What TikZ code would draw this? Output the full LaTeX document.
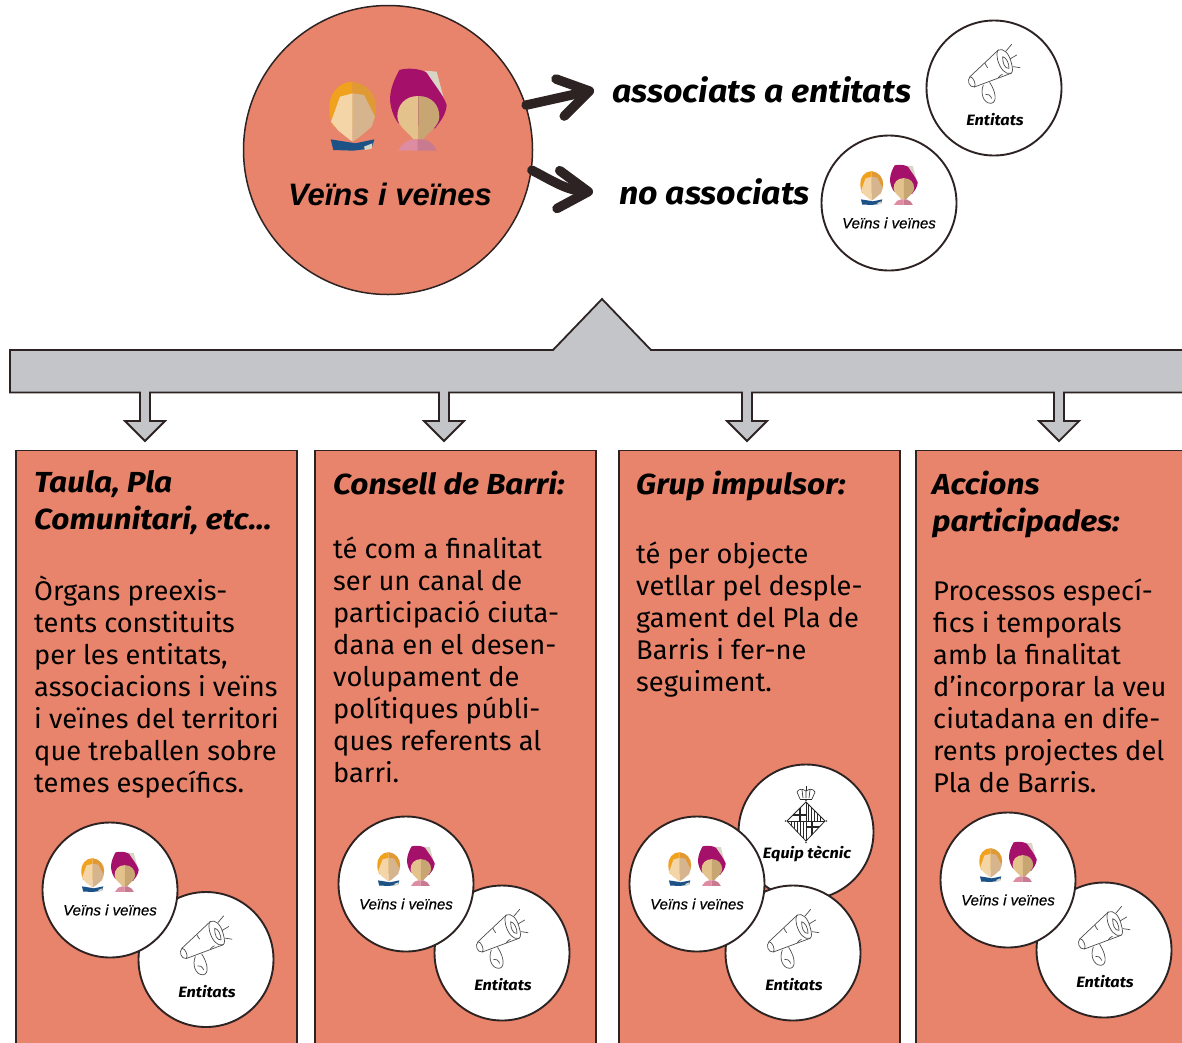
\documentclass[tikz,border=0pt]{standalone}
\usepackage{fontspec}
\setmainfont{Fira Sans}
\newfontfamily\arialish{Liberation Sans}
\newfontfamily\capvfont[FakeBold=0.5]{Liberation Sans}
\newfontfamily\wide[FakeStretch=1.09]{Fira Sans}
\newfontfamily\leadfont[FakeStretch=1.06]{Fira Sans}
\newfontfamily\bodyfont[FakeStretch=1.01]{Fira Sans}
\usetikzlibrary{arrows.meta,calc}
\definecolor{salmon}{HTML}{E8846B}
\definecolor{barg}{HTML}{C3C5C9}
\definecolor{ink}{HTML}{2E2323}
\definecolor{hairA}{HTML}{F0A11E}
\definecolor{hairB}{HTML}{DF9A35}
\definecolor{skinA}{HTML}{F3D5A8}
\definecolor{skinB}{HTML}{D6B58E}
\definecolor{skinC}{HTML}{E3C28B}
\definecolor{skinD}{HTML}{C7A674}
\definecolor{scarf}{HTML}{A5106B}
\definecolor{pale}{HTML}{D9D5C5}
\definecolor{navy}{HTML}{1C5286}
\definecolor{pinkA}{HTML}{DD8CA2}
\definecolor{pinkB}{HTML}{C87B90}
\tikzset{
 roundel/.style={circle,draw=ink,line width=1.9pt,fill=white,minimum size=135pt,inner sep=0pt},
 panel/.style={rectangle,draw=ink,line width=1.8pt,fill=salmon,anchor=north west,inner sep=0pt},
 capt/.style={font=\fontsize{15}{18}\selectfont\wide\bfseries\itshape,text=black,inner sep=0pt},
 capv/.style={font=\fontsize{15}{18}\selectfont\capvfont\itshape,text=black,inner sep=0pt},
 heading/.style={font=\fontsize{29}{37}\selectfont\wide\bfseries\itshape,align=left,anchor=north west,inner sep=0pt,text=black},
 body/.style={font=\fontsize{27}{32}\selectfont\bodyfont,align=left,anchor=north west,inner sep=0pt,text=black},
 lead/.style={font=\fontsize{32}{38}\selectfont\leadfont\bfseries\itshape,anchor=west,inner ysep=0pt,text=black},
 bigarrow/.style={draw=ink,line width=9.5pt,line cap=round,line join=round,-{Straight Barb[length=30pt,width=38pt,round]}},
 faces/.pic={
  \begin{scope}[scale=1/3,shift={(-444,-324)}]
   \fill[hairA] (338,245) .. controls (295,245) and (265,285) .. (268,325) .. controls (268,345) and (272,365) .. (280,380) -- (338,380) -- cycle;
   \fill[hairB] (338,245) .. controls (380,250) and (410,285) .. (408,325) .. controls (408,345) and (400,365) .. (392,380) -- (338,380) -- cycle;
   \fill[skinA] (338,280) -- (300,290) -- (273,365) -- (295,392) -- (328,418) -- (338,425) -- cycle;
   \fill[skinB] (338,280) -- (372,285) -- (405,350) -- (395,380) -- (360,410) -- (338,425) -- cycle;
   \fill[navy] (272,418) -- (335,428) -- (345,430) -- (403,418) -- (395,445) -- (340,452) -- (280,450) -- cycle;
   \fill[pale] (372,440) -- (397,430) -- (395,446) -- (375,450) -- cycle;
   \fill[pale] (555,212) -- (590,215) -- (610,290) -- (575,250) -- cycle;
   \fill[scarf] (478,210) .. controls (500,203) and (540,205) .. (560,218) .. controls (580,250) and (610,285) .. (620,315) .. controls (618,345) and (600,365) .. (585,385) -- (475,370) .. controls (460,350) and (450,320) .. (450,295) .. controls (452,260) and (465,235) .. (478,210) -- cycle;
   \fill[skinC] (535,288) .. controls (495,288) and (472,315) .. (472,350) .. controls (472,380) and (510,400) .. (520,418) -- (535,418) -- cycle;
   \fill[skinD] (535,288) .. controls (575,288) and (598,315) .. (598,350) .. controls (598,380) and (560,400) .. (550,418) -- (535,418) -- cycle;
   \fill[pinkA] (475,452) .. controls (482,435) and (495,422) .. (520,418) -- (533,418) -- (533,452) -- cycle;
   \fill[pinkB] (533,452) -- (533,418) -- (550,418) .. controls (570,422) and (583,435) .. (590,452) -- cycle;
  \end{scope}},
 horn/.pic={
  \begin{scope}[scale=1/3,shift={(-117,-159)},draw=black!70,line width=.7pt,line cap=round,line join=round]
   \draw (45,125) -- (130,45);
   \draw (58,156) -- (168,115);
   \draw (130,45) .. controls (145,38) and (162,55) .. (168,80) .. controls (174,100) and (174,112) .. (168,115) .. controls (150,120) and (135,100) .. (128,75) .. controls (125,60) and (125,48) .. (130,45) -- cycle;
   \draw (143,65) .. controls (155,68) and (162,85) .. (162,100) .. controls (150,102) and (142,85) .. (143,65) -- cycle;
   \draw (45,125) .. controls (35,135) and (42,158) .. (58,156) .. controls (65,150) and (55,125) .. (45,125) -- cycle;
   \draw (85,150) .. controls (75,175) and (85,205) .. (108,205) .. controls (128,202) and (122,170) .. (104,142);
   \draw (92,178) .. controls (98,176) and (106,180) .. (110,190);
   \draw (90,85) .. controls (92,90) and (96,96) .. (98,98);
   \draw (130,128) .. controls (134,122) and (138,120) .. (142,118);
   \draw (153,48) -- (170,28);
   \draw (165,72) -- (185,60);
   \draw (175,95) -- (195,98);
  \end{scope}},
 crest/.pic={
  \begin{scope}[draw=black!85,line width=.6pt]
   \draw[line width=.8pt] (-19,-11) -- (0,-30) -- (19,-11) -- (0,9) -- cycle;
   \begin{scope}
    \clip (-19,-11) -- (0,-30) -- (19,-11) -- (0,9) -- cycle;
    \draw (-19,-11) -- (19,-11) (0,-30) -- (0,9);
    \draw[line width=1.8pt] (-6,-25) -- (-6,-11) (-14,-17) -- (0,-17);
    \draw[line width=1.8pt] (6,-11) -- (6,4) (0,-5) -- (14,-5);
    \foreach \q in {2.5,5.5,8.5,11.5,14.5} {\draw[line width=1.1pt] (\q,-30) -- (\q,-11); \draw[line width=1.1pt] (-\q,-11) -- (-\q,9);}
   \end{scope}
   \fill[black!75] (-20.5,-11) circle (.8) (20.5,-11) circle (.8) (0,10.5) circle (.8) (0,-31.5) circle (.8);
   \draw[line width=.9pt] (-6,-33) -- (6,-33);
   \draw (-6,-33) -- (-9,-40) .. controls (-7,-44) and (-3,-43) .. (0,-41) .. controls (3,-43) and (7,-44) .. (9,-40) -- (6,-33);
   \draw (-3,-34) -- (-4,-42) (3,-34) -- (4,-42) (0,-34) -- (0,-41);
   \draw (0,-41) -- (0,-46);
  \end{scope}},
}
\newcommand{\veinsdisc}[3]{%
 \node[roundel] (#1) at (#2,#3) {};
 \pic[scale=.49] at ($(#2,#3)+(0,-19)$) {faces};
 \node[capv] (#1t) at (#2,#3+20) {Veïns i veïnes};}
\newcommand{\entdisc}[3]{%
 \node[roundel] (#1) at (#2,#3) {};
 \pic at (#2,#3) {horn};
 \node[capt] (#1t) at (#2+1,#3+32) {Entitats};}
\begin{document}
\begin{tikzpicture}[x=1pt,y=-1pt]
\useasboundingbox (0,0) rectangle (1182,1042);
\clip (0,0) rectangle (1182,1042);
\fill[white] (0,0) rectangle (1182,1042);
% top
\node[circle,draw=ink,line width=1.5pt,fill=salmon,minimum size=289pt,inner sep=0pt] (big) at (388,150) {};
\pic at (388,108) {faces};
\node[font=\fontsize{31}{38}\selectfont\arialish\bfseries\itshape,inner sep=0pt] (bigt) at (390,194) {Veïns i veïnes};
\node[lead,inner xsep=18pt] (assoc) at (594,90) {associats a entitats};
\node[lead,inner xsep=26pt] (noassoc) at (593,192) {no associats};
\draw[bigarrow] (big.18) -- (assoc.west);
\draw[bigarrow] (big.-8) .. controls +(18,9) and +(-28,-2) .. (noassoc.west);
\entdisc{e0}{994}{88}
\veinsdisc{v0}{889}{203}
% bar
\draw[draw=ink,line width=1.8pt,fill=barg,line join=miter]
 (1195,350) -- (651,350) -- (602,299) -- (553,350) -- (10,350) -- (10,392.5)
 -- (140,392.5) -- (140,421) -- (125,421) -- (145,441) -- (165,421) -- (150,421) -- (150,392.5)
 -- (439,392.5) -- (439,421) -- (424,421) -- (444,441) -- (464,421) -- (449,421) -- (449,392.5)
 -- (742,392.5) -- (742,421) -- (727,421) -- (747,441) -- (767,421) -- (752,421) -- (752,392.5)
 -- (1054,392.5) -- (1054,421) -- (1039,421) -- (1059,441) -- (1079,421) -- (1064,421) -- (1064,392.5)
 -- (1195,392.5);
% panels
\node[panel,minimum width=281pt,minimum height=610pt] (p1) at (15,449.5) {};
\node[panel,minimum width=281pt,minimum height=610pt] (p2) at (314,449.5) {};
\node[panel,minimum width=281pt,minimum height=610pt] (p3) at (618,449.5) {};
\node[panel,minimum width=281pt,minimum height=610pt] (p4) at (915,449.5) {};
% panel 1
\node[heading] (h1) at (34,470) {Taula, Pla\\Comunitari, etc...};
\node[body] (b1) at (34,576) {Òrgans preexis-\\tents constituits\\per les entitats,\\associacions i veïns\\i veïnes del territori\\que treballen sobre\\temes específics.};
\entdisc{e1}{206}{959.5}
\veinsdisc{v1}{110}{890}
% panel 2
\node[heading] (h2) at (333,471) {Consell de Barri:};
\node[body] (b2) at (333,537) {té com a finalitat\\ser un canal de\\participació ciuta-\\dana en el desen-\\volupament de\\polítiques públi-\\ques referents al\\barri.};
\entdisc{e2}{502}{953}
\veinsdisc{v2}{406}{884}
% panel 3
\node[heading] (h3) at (636,471) {Grup impulsor:};
\node[body] (b3) at (636,542) {té per objecte\\vetllar pel desple-\\gament del Pla de\\Barris i fer-ne\\seguiment.};
\node[roundel] (t3) at (806,832) {};
\pic at (806,832) {crest};
\node[capt] (t3t) at (807,854) {Equip tècnic};
\entdisc{e3}{793}{953}
\veinsdisc{v3}{697}{884}
% panel 4
\node[heading] (h4) at (932,471) {Accions\\participades:};
\node[body] (b4) at (933,579) {Processos especí-\\fics i temporals\\amb la finalitat\\d’incorporar la veu\\ciutadana en dife-\\rents projectes del\\Pla de Barris.};
\entdisc{e4}{1104}{950}
\veinsdisc{v4}{1008}{880}
\end{tikzpicture}
\end{document}
